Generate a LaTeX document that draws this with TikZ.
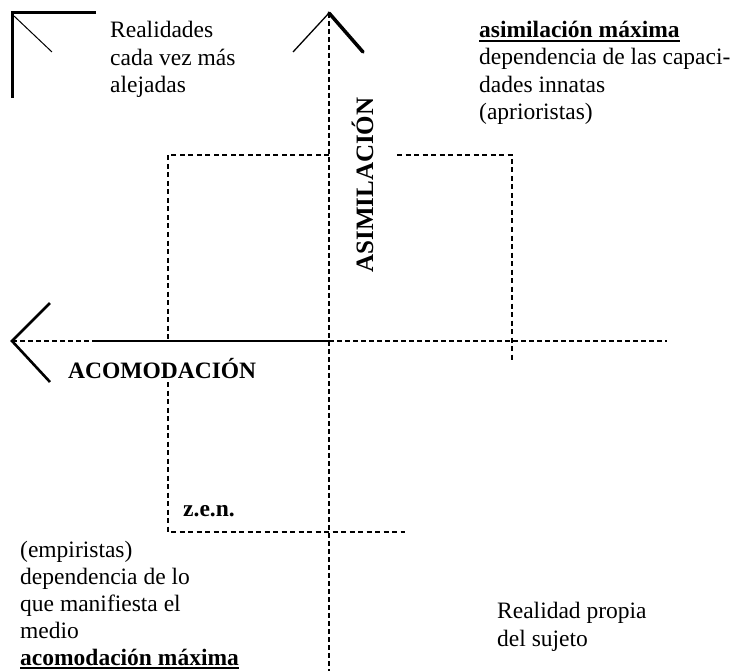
\documentclass[tikz,border=0pt]{standalone}
\usepackage{fontspec}
\setmainfont{Liberation Serif}
\newcommand\myul[1]{\leavevmode\vtop{\hbox{#1}\kern2pt\hrule height 2pt}}
\begin{document}
\begin{tikzpicture}[x=1pt,y=-1pt,
  txt/.style={font=\fontsize{23.5}{27.5}\selectfont, inner sep=0pt, align=left, anchor=base west},
  btxt/.style={font=\fontsize{23.5}{27.5}\selectfont\bfseries, inner sep=0pt, anchor=base west},
  boxline/.style={line width=2pt, dash pattern=on 5pt off 3.5pt},
  axis/.style={line width=1.8pt, dash pattern=on 5pt off 3pt},
  solidaxis/.style={line width=2.2pt},
]
\useasboundingbox (0,0) rectangle (736,671);

% axes
\coordinate (vtop) at (329,13);
\coordinate (vbot) at (329,671);
\coordinate (hleft) at (12,341);
\coordinate (hmid) at (92,341);
\coordinate (hcross) at (329,341);
\coordinate (hright) at (667,341);
\draw[axis] (vtop) -- (vbot);
\draw[axis] (hleft) -- (hmid);
\draw[solidaxis] (hmid) -- (hcross);
\draw[axis] (hcross) -- (hright);

% arrowheads
\coordinate (vl) at (293,52);
\coordinate (vr) at (363,52);
\draw[line width=1.3pt] (vtop) -- (vl);
\draw[line width=3.5pt, line cap=round] (vtop) -- (vr);
\coordinate (hu) at (50,303);
\coordinate (hd) at (50,382);
\draw[line width=2.6pt] (hu) -- (hleft) -- (hd);

% corner bracket
\coordinate (ca) at (96,13);
\coordinate (cb) at (12,13);
\coordinate (cc) at (12,98);
\coordinate (da) at (14,16);
\coordinate (db) at (52,52);
\draw[line width=3pt] (ca) -- (cb) -- (cc);
\draw[line width=1pt] (da) -- (db);

% dashed boxes
\coordinate (b1) at (329,155);
\coordinate (b2) at (168,155);
\coordinate (b3) at (168,341);
\coordinate (b4) at (397,155);
\coordinate (b5) at (512,155);
\coordinate (b6) at (512,360);
\coordinate (b7) at (168,382);
\coordinate (b8) at (168,532);
\coordinate (b9) at (405,532);
\draw[boxline] (b1) -- (b2) -- (b3);
\draw[boxline] (b4) -- (b5) -- (b6);
\draw[boxline] (b7) -- (b8) -- (b9);

% texts (anchor = baseline of last line)
\node[txt] (real) at (110,93) {Realidades\\cada vez más\\alejadas};
\node[txt] (asim) at (479,120) {\myul{\bfseries asimilación máxima}\\dependencia de las capaci-\\dades innatas\\(aprioristas)};
\node[txt, font=\fontsize{23.5}{27}\selectfont] (emp) at (20,665) {(empiristas)\\dependencia de lo\\que manifiesta el\\medio\\\myul{\bfseries acomodación máxima}};
\node[txt] (propia) at (497,646) {Realidad propia\\del sujeto};
\node[btxt] (acom) at (68,378) {ACOMODACIÓN};
\node[btxt] (zen) at (183,516) {z.e.n.};
\node[btxt, font=\fontsize{25}{28}\selectfont\bfseries, anchor=base, rotate=90] (asimlab) at (373,185) {ASIMILACIÓN};
\end{tikzpicture}
\end{document}
